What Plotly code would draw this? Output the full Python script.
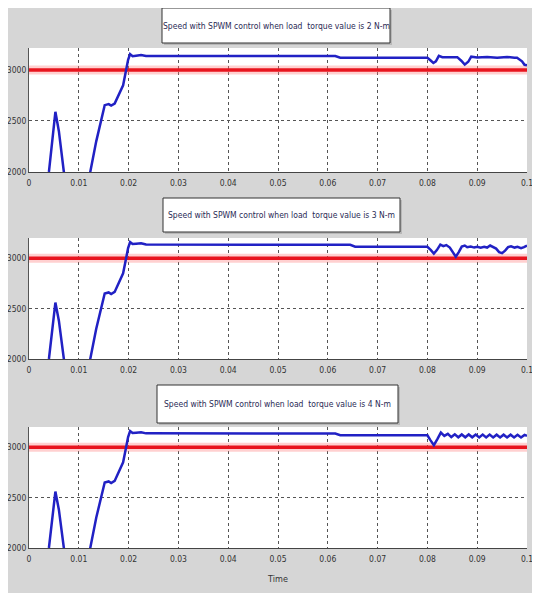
import plotly.graph_objects as go

# ---------------- data ----------------
x_ticks = [0, 0.01, 0.02, 0.03, 0.04, 0.05, 0.06, 0.07, 0.08, 0.09, 0.1]
x_tick_labels = ["0", "0.01", "0.02", "0.03", "0.04", "0.05", "0.06", "0.07", "0.08", "0.09", "0.1"]
y_ticks = [2000, 2500, 3000]
y_tick_labels = ["2000", "2500", "3000"]

titles = [
    "Speed with SPWM control when load  torque value is 2 N-m",
    "Speed with SPWM control when load  torque value is 3 N-m",
    "Speed with SPWM control when load  torque value is 4 N-m",
]

ref_time = [0, 0.1]
ref_speed = [3000, 3000]

t_2nm = [0, 0.003, 0.004, 0.0047, 0.0053, 0.006, 0.007, 0.0095, 0.0123, 0.0135, 0.0144,
         0.0152, 0.016, 0.0165, 0.0172, 0.018, 0.0189, 0.0195, 0.0199, 0.0203, 0.0208,
         0.0215, 0.0225, 0.0235, 0.03, 0.04, 0.05, 0.0615, 0.0625, 0.07, 0.08, 0.0806,
         0.0812, 0.0817, 0.0823, 0.083, 0.086, 0.0868, 0.0875, 0.0882, 0.0888, 0.09,
         0.092, 0.094, 0.096, 0.0975, 0.098, 0.099, 0.0995, 0.1]
w_2nm = [1000, 1700, 2000, 2350, 2590, 2400, 2000, 1700, 2000, 2300, 2500,
         2655, 2665, 2650, 2670, 2750, 2850, 3000, 3100, 3155, 3135,
         3140, 3147, 3137, 3137, 3137, 3137, 3136, 3120, 3120, 3120, 3095,
         3068, 3085, 3138, 3125, 3125, 3090, 3052, 3080, 3130, 3122,
         3128, 3120, 3127, 3120, 3120, 3085, 3050, 3045]

t_3nm = [0, 0.003, 0.004, 0.0047, 0.0053, 0.006, 0.007, 0.0095, 0.0123, 0.0135, 0.0144,
         0.0152, 0.016, 0.0165, 0.0172, 0.018, 0.0189, 0.0195, 0.0199, 0.0203, 0.0208,
         0.0215, 0.0225, 0.0235, 0.03, 0.04, 0.05, 0.06, 0.0645, 0.0655, 0.07, 0.08,
         0.0807, 0.0813, 0.0819, 0.0826, 0.0832, 0.0838, 0.0845, 0.0851, 0.0857, 0.0863,
         0.0869, 0.0875, 0.088, 0.0887, 0.0894, 0.09, 0.0907, 0.0914, 0.092, 0.0926,
         0.0932, 0.0938, 0.0944, 0.095, 0.0956, 0.0962, 0.0968, 0.0975, 0.0981, 0.0988,
         0.0994, 0.1]
w_3nm = [1000, 1700, 2000, 2320, 2560, 2380, 2000, 1700, 2000, 2300, 2500,
         2650, 2660, 2645, 2665, 2750, 2850, 3000, 3100, 3160, 3140,
         3143, 3148, 3135, 3133, 3133, 3133, 3132, 3132, 3113, 3113, 3112,
         3080, 3045, 3080, 3135, 3120, 3130, 3105, 3060, 3015, 3060,
         3115, 3125, 3108, 3115, 3105, 3112, 3104, 3113, 3105, 3125,
         3110, 3095, 3060, 3050, 3075, 3110, 3118, 3105, 3112, 3100,
         3110, 3125]

t_4nm = [0, 0.003, 0.004, 0.0047, 0.0053, 0.006, 0.007, 0.0095, 0.0123, 0.0135, 0.0144,
         0.0152, 0.016, 0.0165, 0.0172, 0.018, 0.0189, 0.0195, 0.0199, 0.0203, 0.0208,
         0.0215, 0.0225, 0.0235, 0.03, 0.04, 0.05, 0.0615, 0.0625, 0.07, 0.08,
         0.0806, 0.0813, 0.082, 0.0827, 0.0834, 0.0841, 0.0848, 0.0855, 0.0862, 0.0869,
         0.0876, 0.0883, 0.089, 0.0897, 0.0904, 0.0911, 0.0918, 0.0925, 0.0932, 0.0939,
         0.0946, 0.0953, 0.096, 0.0967, 0.0974, 0.0981, 0.0988, 0.0995, 0.1]
w_4nm = [1000, 1700, 2000, 2320, 2560, 2380, 2000, 1700, 2000, 2300, 2500,
         2650, 2660, 2645, 2665, 2750, 2850, 3000, 3100, 3160, 3140,
         3143, 3148, 3137, 3136, 3136, 3136, 3135, 3118, 3118, 3118,
         3070, 3020, 3080, 3145, 3112, 3132, 3100, 3128, 3098, 3126,
         3098, 3126, 3098, 3125, 3097, 3125, 3097, 3125, 3097, 3124,
         3096, 3124, 3096, 3124, 3096, 3123, 3097, 3122, 3112]

series = [(t_2nm, w_2nm), (t_3nm, w_3nm), (t_4nm, w_4nm)]
y_ranges = [[2000, 3215], [2000, 3200], [2000, 3200]]

# ---------------- layout geometry (figure px; page adds an 8px body margin) ----------------
W, H = 524, 585
plot_left, plot_right = 21, 519
panel_px = [(40, 164), (230, 351), (419, 540)]           # top, bottom
title_boxes = [(154, 0, 382, 35), (155, 190, 392, 224), (149, 377, 390, 415)]

FONT = "DejaVu Sans Condensed, Liberation Sans Narrow, sans-serif"
BLUE = "#2121c4"
RED = "#e8141e"

fig = go.Figure()

for i, (tt, ww) in enumerate(series):
    ax = "" if i == 0 else str(i + 1)
    fig.add_trace(go.Scatter(x=ref_time, y=ref_speed, mode="lines",
                             line=dict(color="rgba(255,120,120,0.35)", width=9),
                             xaxis="x" + ax, yaxis="y" + ax, hoverinfo="skip", showlegend=False))
    fig.add_trace(go.Scatter(x=ref_time, y=ref_speed, mode="lines",
                             line=dict(color=RED, width=3.5),
                             xaxis="x" + ax, yaxis="y" + ax, showlegend=False))
    fig.add_trace(go.Scatter(x=tt, y=ww, mode="lines",
                             line=dict(color=BLUE, width=2.5),
                             xaxis="x" + ax, yaxis="y" + ax, showlegend=False))

layout = dict(
    width=W, height=H,
    margin=dict(l=0, r=0, t=0, b=0, autoexpand=False),
    paper_bgcolor="#d6d6d6",
    plot_bgcolor="white",
    showlegend=False,
    font=dict(family=FONT, size=8.5, color="#333333"),
)

for i, (top, bot) in enumerate(panel_px):
    k = "" if i == 0 else str(i + 1)
    layout["xaxis" + k] = dict(
        domain=[plot_left / W, plot_right / W],
        range=[0, 0.1], tickvals=x_ticks, ticktext=x_tick_labels,
        showgrid=True, gridcolor="#555555", griddash="dot", gridwidth=1,
        showline=True, linecolor="#444444", linewidth=1,
        ticks="", ticklabelstandoff=3, ticklabeloverflow="allow",
        automargin=False,
        zeroline=False, anchor="y" + k,
        tickfont=dict(family=FONT, size=8.5, color="#333333"),
    )
    layout["yaxis" + k] = dict(
        domain=[1 - bot / H, 1 - top / H],
        range=y_ranges[i], tickvals=y_ticks, ticktext=y_tick_labels,
        showgrid=True, gridcolor="#555555", griddash="dot", gridwidth=1,
        showline=True, linecolor="#555555", linewidth=1,
        ticks="", automargin=False,
        zeroline=False, anchor="x" + k,
        tickfont=dict(family=FONT, size=8.5, color="#333333"),
    )

layout["xaxis3"]["title"] = dict(text="Time", standoff=12,
                                 font=dict(family=FONT, size=9, color="#333333"))

shapes = []
annotations = []
for (x0, y0, x1, y1), txt in zip(title_boxes, titles):
    shapes.append(dict(type="rect", xref="paper", yref="paper",
                       x0=(x0 + 2) / W, x1=(x1 + 2) / W,
                       y0=1 - (y1 + 2) / H, y1=1 - (y0 + 2) / H,
                       fillcolor="#b8b8b8", line=dict(width=0), layer="above"))
    shapes.append(dict(type="rect", xref="paper", yref="paper",
                       x0=x0 / W, x1=x1 / W, y0=1 - y1 / H, y1=1 - y0 / H,
                       fillcolor="white", line=dict(color="#333333", width=1), layer="above"))
    annotations.append(dict(xref="paper", yref="paper",
                            x=(x0 + x1) / 2 / W, y=1 - (y0 + y1) / 2 / H,
                            text=txt, showarrow=False, xanchor="center", yanchor="middle",
                            font=dict(family=FONT, size=8.5, color="#2a2a55")))

layout["shapes"] = shapes
layout["annotations"] = annotations
fig.update_layout(**layout)

fig.write_html("out.html")
